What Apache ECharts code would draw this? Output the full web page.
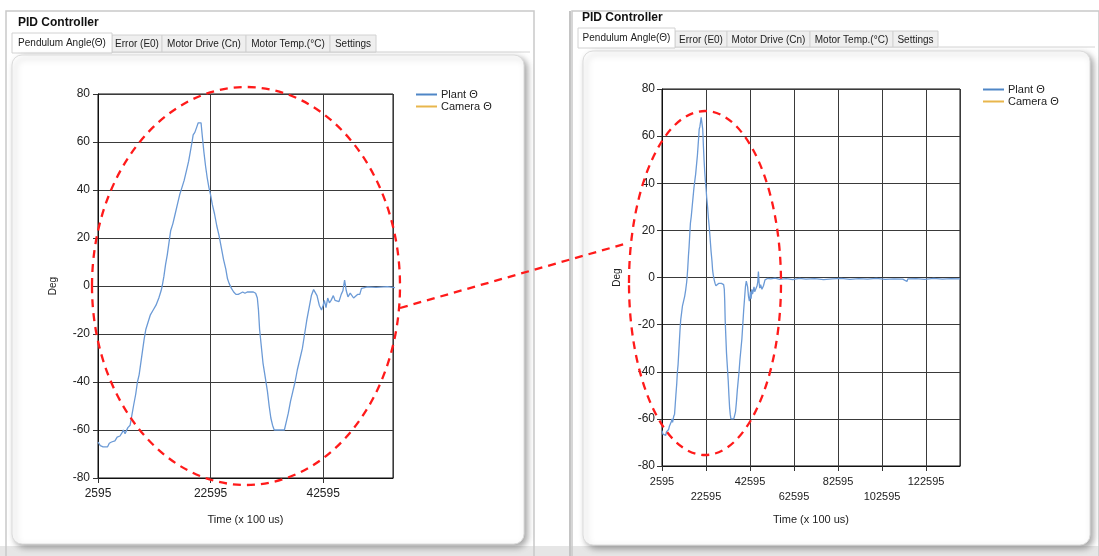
<!DOCTYPE html>
<html>
<head>
<meta charset="utf-8">
<script src="https://cdn.jsdelivr.net/npm/echarts@6.0.0/dist/echarts.min.js"></script>
<style>
  html, body { margin: 0; padding: 0; background: #fff; }
  #main { width: 1099px; height: 556px; }
</style>
</head>
<body>
<div id="main"></div>
<script>
// pendulum angle: time (x 100 us) and angle (deg)
var thetaTime = [2595, 3000, 3500, 4300, 4600, 5000, 5600, 6000, 6500, 6900, 7100, 7400, 7700, 7900, 8300,
  8600, 8900, 9300, 9600, 9900, 10200, 10500, 10800, 11100, 11500, 11900, 12400, 12900, 13400, 13800,
  14000, 14300, 14600, 14900, 15200, 15500, 15900, 16300, 16700, 17100, 17500, 17900, 18300, 18700, 19000,
  19300, 19500, 19800, 20100, 20400, 20700, 20900, 21100, 21400, 21700, 22000, 22300, 22595, 22900, 23300,
  23700, 24100, 24500, 24900, 25300, 25600, 25900, 26300, 26700, 27100, 27500, 27900, 28300, 28700, 29100,
  29600, 30200, 30600, 30900, 31100, 31300, 31600, 31900, 32300, 32700, 33000, 33300, 33600, 33900, 34500,
  35200, 35700, 36000, 36400, 36800, 37200, 37600, 38000, 38500, 38900, 39300, 39700, 40100, 40500, 40900,
  41200, 41500, 41900, 42300, 42600, 42800, 43100, 43400, 43700, 44000, 44400, 44700, 45000, 45400, 45800,
  46100, 46400, 46700, 47000, 47400, 47700, 48000, 48300, 48700, 49100, 49400, 49700, 50500, 52000, 54000,
  56000, 59000, 62000, 65000, 68000, 72000, 76000, 80000, 84000, 88000, 92000, 96000, 100000, 104000, 108000,
  112000, 113900, 114300, 118000, 122000, 126000, 130000, 134000, 138000];
var thetaDeg = [-65, -66.5, -67, -67, -65.5, -65, -64.5, -63, -62.5, -61, -60, -61.5, -61.5, -59, -58,
  -54, -50, -45, -40, -37, -32, -27, -22, -18, -15, -12, -10, -8, -5, -2,
  0, 4, 9, 13, 18, 23, 26, 30, 34, 38, 41, 44, 48, 52, 56,
  60, 63, 64, 66, 68, 67.5, 68, 63, 56, 50, 45, 41, 38, 34, 30,
  25, 21, 16, 11, 7, 3, 1, -1, -2.5, -3.5, -3.5, -3, -2.5, -3, -2.5,
  -2.5, -2.5, -3, -5, -10, -18, -25, -32, -38, -44, -50, -55, -58, -60, -60,
  -60, -60, -57, -53, -48, -44, -40, -35, -30, -26, -20, -14, -9, -4, -1.5,
  -1, -4, -8, -10, -8, -6, -9, -5, -7, -6, -4, -6, -5.5, -6.5, -3.5,
  -2, 2.5, -2, -4.5, -3, -3.5, -5, -5, -3.5, -3.5, -1, -0.5, -0.4, -0.6, -0.3,
  -0.8, -0.5, -0.9, -0.4, -0.7, -0.5, -0.9, -0.6, -0.4, -0.8, -0.5, -0.7, -0.4, -0.8, -0.6,
  -0.7, -1.7, -0.6, -0.5, -0.8, -0.4, -0.7, -0.5, -0.6];
var cameraDeg = [];

var xTickStart = 2595;     // first time label
var xTickStep = 20000;
var leftTimeMax = 55000;
var rightTimeMax = 138000;
var yMin = -80, yMax = 80, yStep = 20;
var seriesNames = ['Plant Θ', 'Camera Θ'];
var tabNames = ['Pendulum Angle(Θ)', 'Error (E0)', 'Motor Drive (Cn)', 'Motor Temp.(°C)', 'Settings'];

var FONT = 'Liberation Sans';
var chart = echarts.init(document.getElementById('main'));

// axis counted from the first label so the ticks land on 2595, 22595, ...
var plantData = thetaTime.map(function (t, i) { return [t - xTickStart, thetaDeg[i]]; });

function tabs(xs, top, selTop, bottom, titleX, titleY, frameX, frameRight) {
  var els = [];
  els.push({ type: 'rect', z: -5, shape: { x: frameX, y: 11, width: frameRight - frameX, height: 560 },
    style: { fill: 'none', stroke: '#c9c9c9', lineWidth: 1.5 } });
  els.push({ type: 'text', z: 1, x: titleX, y: titleY,
    style: { text: 'PID Controller', font: 'bold 12px ' + FONT, fill: '#111', verticalAlign: 'middle' } });
  els.push({ type: 'line', z: -4, shape: { x1: xs[0], y1: bottom, x2: frameRight - 4, y2: bottom },
    style: { stroke: '#d4d4d4', lineWidth: 1 } });
  for (var i = 0; i < tabNames.length; i++) {
    var sel = i === 0;
    var y0 = sel ? selTop : top;
    els.push({ type: 'rect', z: sel ? -2 : -3,
      shape: { x: xs[i], y: y0, width: xs[i + 1] - xs[i], height: bottom - y0 + (sel ? 1 : 0) },
      style: { fill: sel ? '#fff' : '#efefef', stroke: '#d2d2d2', lineWidth: 1 } });
    els.push({ type: 'text', z: 1, x: (xs[i] + xs[i + 1]) / 2, y: (y0 + bottom) / 2 + 1,
      style: { text: tabNames[i], font: '10px ' + FONT, fill: '#222', align: 'center', verticalAlign: 'middle' } });
  }
  return els;
}

var graphics = []
  .concat(tabs([12, 112, 162, 246, 330, 376], 35, 33, 52, 18, 23, 6, 534))
  .concat(tabs([578, 675, 727, 810, 893, 938], 31, 28, 47, 582, 18, 572, 1099));

graphics.push(
  // white content panels with soft shadow
  { type: 'rect', z: -1, shape: { x: 12, y: 55, width: 512, height: 489, r: 10 },
    style: { fill: '#fff', stroke: '#dcdcdc', lineWidth: 1, shadowBlur: 6, shadowOffsetX: 3, shadowOffsetY: 3, shadowColor: 'rgba(0,0,0,0.35)' } },
  { type: 'rect', z: -1, shape: { x: 583, y: 51, width: 507, height: 494, r: 10 },
    style: { fill: '#fff', stroke: '#dcdcdc', lineWidth: 1, shadowBlur: 6, shadowOffsetX: 3, shadowOffsetY: 3, shadowColor: 'rgba(0,0,0,0.35)' } },
  { type: 'rect', z: -6, shape: { x: 0, y: 546, width: 1099, height: 10 }, style: { fill: '#e6e6e6' } },
  { type: 'line', z: -4, shape: { x1: 570, y1: 11, x2: 570, y2: 556 }, style: { stroke: '#c4c4c4', lineWidth: 2 } },
  // red annotation
  { type: 'ellipse', z: 100, shape: { cx: 246, cy: 286, rx: 154, ry: 199 },
    style: { fill: 'none', stroke: '#ff1a1a', lineWidth: 2.3, lineDash: [8, 6] } },
  { type: 'ellipse', z: 100, shape: { cx: 705, cy: 283, rx: 76, ry: 172 },
    style: { fill: 'none', stroke: '#ff1a1a', lineWidth: 2.3, lineDash: [8, 6] } },
  { type: 'line', z: 100, shape: { x1: 400, y1: 308, x2: 628, y2: 243 },
    style: { stroke: '#ff1a1a', lineWidth: 2.3, lineDash: [8, 6] } }
);

function xAxisFor(grid, max, stagger, nameGap, fontSize) {
  return {
    type: 'value', gridIndex: grid, min: 0, max: max - xTickStart, interval: xTickStep,
    name: 'Time (x 100 us)', nameLocation: 'middle', nameGap: nameGap,
    nameTextStyle: { fontFamily: FONT, fontSize: 11, color: '#222' },
    axisLine: { onZero: false, lineStyle: { color: '#111', width: 1 } },
    axisTick: { show: true, length: 5, lineStyle: { color: '#333' } },
    splitLine: { show: true, lineStyle: { color: '#3a3a3a', width: 1 } },
    axisLabel: {
      showMaxLabel: false, margin: 8, fontFamily: FONT, fontSize: fontSize, color: '#222', lineHeight: 15,
      formatter: function (v, i) { return (stagger && i % 2 ? '\n' : '') + (v + xTickStart); }
    }
  };
}
function yAxisFor(grid, margin) {
  return {
    type: 'value', gridIndex: grid, min: yMin, max: yMax, interval: yStep,
    name: 'Deg', nameLocation: 'middle', nameGap: 40, nameRotate: 90,
    nameTextStyle: { fontFamily: FONT, fontSize: 10, color: '#222' },
    axisLine: { show: true, onZero: false, lineStyle: { color: '#111', width: 1 } },
    axisTick: { show: true, length: 5, lineStyle: { color: '#333' } },
    splitLine: { show: true, lineStyle: { color: '#3a3a3a', width: 1 } },
    axisLabel: { margin: margin, fontFamily: FONT, fontSize: 12, color: '#222' }
  };
}
function legendAt(left, top) {
  return {
    data: seriesNames, orient: 'vertical', left: left, top: top, itemGap: 1,
    icon: 'rect', itemWidth: 21, itemHeight: 2, selectedMode: false,
    textStyle: { fontFamily: FONT, fontSize: 11, color: '#222', padding: [0, 0, 0, -1] }
  };
}
function seriesFor(grid) {
  return [
    { name: seriesNames[0], type: 'line', xAxisIndex: grid, yAxisIndex: grid, data: plantData,
      showSymbol: false, symbol: 'none', z: 5, color: '#4f86c6',
      lineStyle: { color: '#6b9ad6', width: 1.3 } },
    { name: seriesNames[1], type: 'line', xAxisIndex: grid, yAxisIndex: grid, data: cameraDeg,
      showSymbol: false, symbol: 'none', color: '#e8b64c' }
  ];
}

chart.setOption({
  animation: false,
  backgroundColor: '#fff',
  textStyle: { fontFamily: FONT },
  grid: [
    { left: 98, top: 94, width: 295, height: 384, show: true, borderColor: '#111', borderWidth: 1, backgroundColor: 'transparent' },
    { left: 662, top: 89, width: 298, height: 377, show: true, borderColor: '#111', borderWidth: 1, backgroundColor: 'transparent' }
  ],
  xAxis: [xAxisFor(0, leftTimeMax, false, 36, 12), xAxisFor(1, rightTimeMax, true, 48, 11)],
  yAxis: [yAxisFor(0, 8), yAxisFor(1, 7)],
  legend: [legendAt(411, 84), legendAt(978, 79)],
  series: seriesFor(0).concat(seriesFor(1)),
  graphic: graphics
});
</script>
</body>
</html>
